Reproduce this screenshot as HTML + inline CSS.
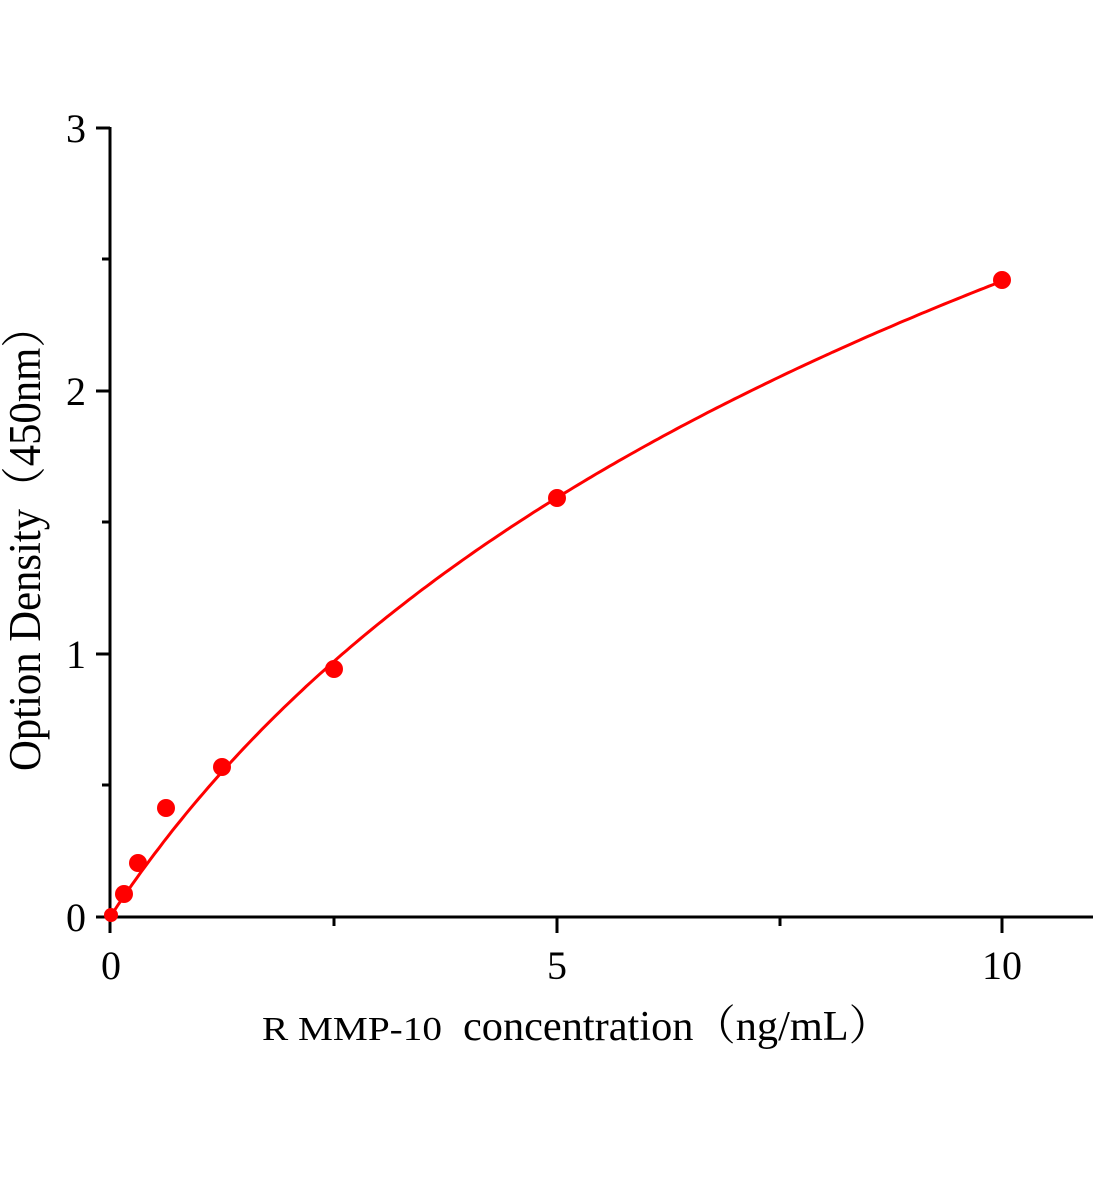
<!DOCTYPE html>
<html><head><meta charset="utf-8"><style>
html,body{margin:0;padding:0;background:#fff;}
svg{display:block;}
text{font-family:"Liberation Serif","Noto Serif CJK SC",serif;fill:#000;}
</style></head><body>
<svg id="s" width="1104" height="1200" viewBox="0 0 1104 1200" xmlns="http://www.w3.org/2000/svg">
<g stroke="#000" stroke-width="3" fill="none">
<line x1="110" y1="917" x2="1093" y2="917"/>
<line x1="110" y1="127" x2="110" y2="933"/>
<line x1="96" y1="917" x2="110" y2="917"/>
<line x1="96" y1="654" x2="110" y2="654"/>
<line x1="96" y1="391" x2="110" y2="391"/>
<line x1="96" y1="128" x2="110" y2="128"/>
<line x1="102" y1="785" x2="110" y2="785"/>
<line x1="102" y1="522" x2="110" y2="522"/>
<line x1="102" y1="259" x2="110" y2="259"/>
<line x1="557" y1="917" x2="557" y2="933"/>
<line x1="1002" y1="917" x2="1002" y2="933"/>
<line x1="334" y1="917" x2="334" y2="926"/>
<line x1="780" y1="917" x2="780" y2="926"/>
</g>
<g font-size="40" text-anchor="end">
<text x="86" y="931">0</text>
<text x="86" y="668">1</text>
<text x="86" y="405">2</text>
<text x="86" y="142">3</text>
</g>
<g font-size="40" text-anchor="middle">
<text x="111" y="979">0</text>
<text x="557" y="979">5</text>
<text x="1002" y="979">10</text>
</g>
<text x="262" y="1040" font-size="34" textLength="180" lengthAdjust="spacingAndGlyphs">R MMP-10</text>
<text x="463" y="1040" font-size="42" textLength="428" lengthAdjust="spacingAndGlyphs">concentration（ng/mL）</text>
<text transform="translate(40,538) rotate(-90)" font-size="45" text-anchor="middle" textLength="466" lengthAdjust="spacingAndGlyphs" x="0" y="0">Option Density（450nm）</text>
<path id="c" fill="none" stroke="#f00" stroke-width="3"/>
<g fill="#f00">
<circle cx="111" cy="915" r="7"/>
<circle cx="124" cy="894" r="9"/>
<circle cx="138" cy="863" r="9"/>
<circle cx="166" cy="808" r="9"/>
<circle cx="222" cy="767" r="9"/>
<circle cx="334" cy="669" r="9"/>
<circle cx="557" cy="498" r="9"/>
<circle cx="1002" cy="280" r="9"/>
</g>
</svg>
<script>
var d="";for(var i=0;i<=200;i++){var x=10*i/200;var y=1.778*Math.log(1+0.29*x);var px=110+x*89.2,py=917-y*262.8;d+=(i?"L":"M")+px.toFixed(1)+" "+py.toFixed(1);}
document.getElementById("c").setAttribute("d",d);
</script>
</body></html>
